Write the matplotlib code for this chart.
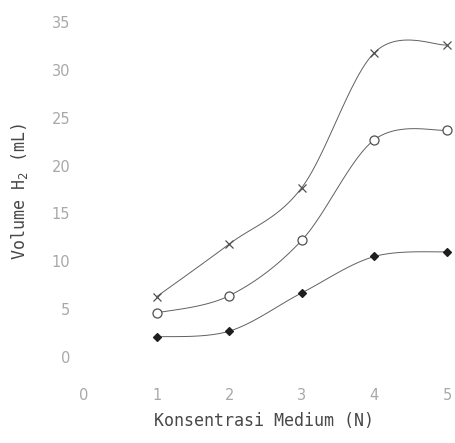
import numpy as np
import matplotlib.pyplot as plt

plt.rcParams['font.family'] = ['DejaVu Sans']

konsentrasi = [1, 2, 3, 4, 5]
seri_silang = [6.3, 11.8, 17.7, 31.8, 32.6]
seri_bulat = [4.6, 6.4, 12.2, 22.7, 23.7]
seri_wajik = [2.1, 2.7, 6.7, 10.5, 11.0]
y_ticks = [0, 5, 10, 15, 20, 25, 30, 35]
x_ticks = [0, 1, 2, 3, 4, 5]


def smooth(xs, ys, n=30):
    # Catmull-Rom curve through the points (like Excel's smoothed line)
    p = np.column_stack([xs, ys]).astype(float)
    p = np.vstack([p[0], p, p[-1]])
    out = []
    t = np.linspace(0, 1, n)[:, None]
    for i in range(1, len(p) - 2):
        p0, p1, p2, p3 = p[i - 1], p[i], p[i + 1], p[i + 2]
        m1 = (p2 - p0) / 2
        m2 = (p3 - p1) / 2
        h00 = 2 * t**3 - 3 * t**2 + 1
        h10 = t**3 - 2 * t**2 + t
        h01 = -2 * t**3 + 3 * t**2
        h11 = t**3 - t**2
        out.append(h00 * p1 + h10 * m1 + h01 * p2 + h11 * m2)
    c = np.vstack(out)
    return c[:, 0], c[:, 1]


W, H = 456, 443
fig = plt.figure(figsize=(W / 100, H / 100), dpi=100)
left, right, top, bottom = 80, 452, 15, 385
ax = fig.add_axes([left / W, 1 - bottom / H, (right - left) / W, (bottom - top) / H])

px_x = 72.6
px_y = 9.571
ax.set_xlim(-(84 - left) / px_x, 5 + (right - 447) / px_x)
ax.set_ylim(-(bottom - 357) / px_y, 35 + (22 - top) / px_y)

line_col = '#606060'
for ys, mk, fc, ms in [(seri_silang, 'x', 'none', 6),
                       (seri_bulat, 'o', 'white', 6.5),
                       (seri_wajik, 'D', '#1e1e1e', 4.5)]:
    sx, sy = smooth(konsentrasi, ys)
    ax.plot(sx, sy, color=line_col, lw=0.7, clip_on=False)
    ax.plot(konsentrasi, ys, linestyle='none', marker=mk, ms=ms,
            mfc=fc, mec='#505050' if mk != 'D' else '#1e1e1e',
            mew=0.9, clip_on=False, zorder=3)

for s in ax.spines.values():
    s.set_visible(False)
ax.set_xticks(x_ticks)
ax.set_yticks(y_ticks)
ax.tick_params(length=0, labelsize=10.5, colors='#a8a8a8')
ax.tick_params(axis='y', pad=7)
ax.tick_params(axis='x', pad=2)

fig.text(264 / W, 1 - 421 / H, 'Konsentrasi Medium (N)', ha='center', va='center',
         fontsize=12, color='#484848', family='DejaVu Sans Mono')
fig.text(20 / W, 1 - 192 / H, 'Volume H$_2$ (mL)', ha='center', va='center',
         rotation=90, fontsize=12, color='#484848', family='DejaVu Sans Mono')

fig.savefig('out.png', dpi=100, facecolor='white')
